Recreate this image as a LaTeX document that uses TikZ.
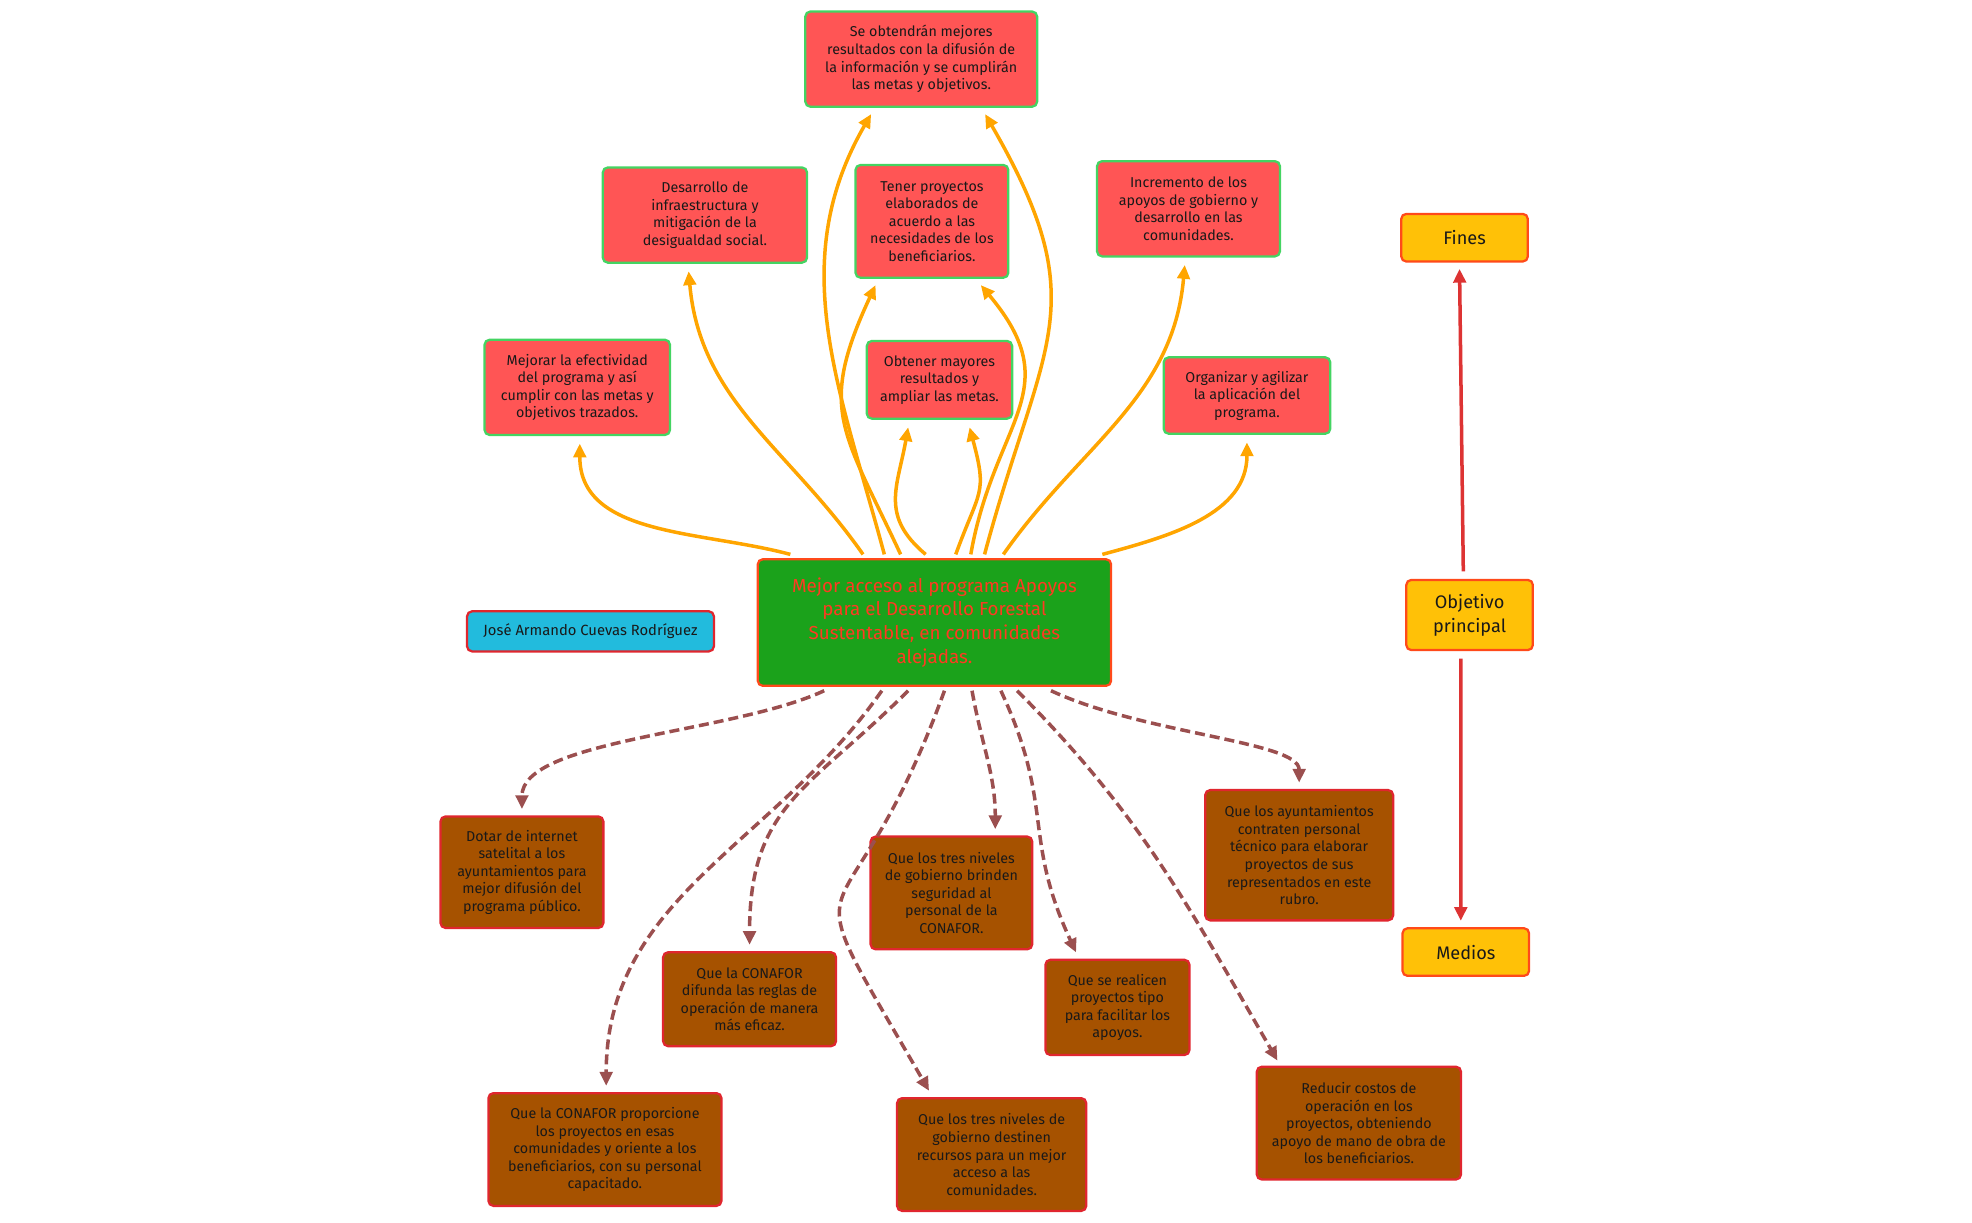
\documentclass[tikz,border=0pt]{standalone}
\usepackage{fontspec}
\setmainfont{Fira Sans}
\usepackage{tikz}
\usetikzlibrary{positioning, shapes, arrows.meta}

\definecolor{rojofin}{HTML}{FF5555}
\definecolor{verdeborde}{HTML}{44D462}
\definecolor{cafe}{HTML}{A65200}
\definecolor{rojoborde}{HTML}{E0262E}
\definecolor{verdecentral}{HTML}{1BA21B}
\definecolor{naranjaborde}{HTML}{FF4A1A}
\definecolor{rojotexto}{HTML}{FF3A22}
\definecolor{azul}{HTML}{22BBDD}
\definecolor{amarillo}{HTML}{FFC107}
\definecolor{naranja}{HTML}{FFA500}
\definecolor{cafelinea}{HTML}{9B4F4F}
\definecolor{rojoflecha}{HTML}{DD3333}

\begin{document}
\begin{tikzpicture}[
    x=1bp, y=1bp,
    % box styles
    caja/.style={
        rectangle,
        rounded corners=4pt,
        line width=1.8pt,
        align=center,
        inner sep=2pt,
        text=black!90,
        font=\fontsize{11.4}{14}\selectfont
    },
    fin/.style={caja, fill=rojofin, draw=verdeborde},
    medio/.style={caja, fill=cafe, draw=rojoborde},
    central/.style={caja, fill=verdecentral, draw=naranjaborde, text=rojotexto, font=\fontsize{15}{19}\selectfont},
    autor/.style={caja, fill=azul, draw=rojoborde, font=\fontsize{11.8}{13}\selectfont},
    leyenda/.style={caja, fill=amarillo, draw=naranjaborde, font=\fontsize{14.5}{19}\selectfont},
    % connector styles
    haciafin/.style={draw=naranja, line width=2.8pt, -{Triangle[length=11pt,width=10pt]}},
    haciamedio/.style={draw=cafelinea, line width=2.8pt, dash pattern=on 8pt off 4pt, -{Triangle[length=11pt,width=10pt]}},
    leyendaflecha/.style={draw=rojoflecha, line width=2.8pt, -{Triangle[length=11pt,width=10pt]}}
]
\useasboundingbox (0,0) rectangle (1568,-972);

% Objetivo central
\node (goal) at (743,-495) [central, minimum width=282, minimum height=101] {Mejor acceso al programa Apoyos\\para el Desarrollo Forestal\\Sustentable, en comunidades\\alejadas.};
\node (autor) at (469.5,-502) [autor, minimum width=197, minimum height=32] {José Armando Cuevas Rodríguez};

% Fines
\node (t1) at (732.5,-47) [fin, minimum width=185, minimum height=76] {Se obtendrán mejores\\resultados con la difusión de\\la información y se cumplirán\\las metas y objetivos.};
\node (t2) at (560.5,-171) [fin, minimum width=163, minimum height=76] {Desarrollo de\\infraestructura y\\mitigación de la\\desigualdad social.};
\node (t3) at (741,-176) [fin, minimum width=122, minimum height=90] {Tener proyectos\\elaborados de\\acuerdo a las\\necesidades de los\\beneficiarios.};
\node (t4) at (945,-166) [fin, minimum width=146, minimum height=76] {Incremento de los\\apoyos de gobierno y\\desarrollo en las\\comunidades.};
\node (t5) at (459,-308) [fin, minimum width=148, minimum height=76] {Mejorar la efectividad\\del programa y así\\cumplir con las metas y\\objetivos trazados.};
\node (t6) at (747,-302) [fin, minimum width=116, minimum height=62] {Obtener mayores\\resultados y\\ampliar las metas.};
\node (t7) at (991.5,-314.5) [fin, minimum width=133, minimum height=61] {Organizar y agilizar\\la aplicación del\\programa.};

% Medios
\node (b1) at (415,-693.5) [medio, minimum width=130, minimum height=89] {Dotar de internet\\satelital a los\\ayuntamientos para\\mejor difusión del\\programa público.};
\node (b2) at (596,-794.5) [medio, minimum width=138, minimum height=75] {Que la CONAFOR\\difunda las reglas de\\operación de manera\\más eficaz.};
\node (b3) at (756.5,-710) [medio, minimum width=129, minimum height=90] {Que los tres niveles\\de gobierno brinden\\seguridad al\\personal de la\\CONAFOR.};
\node (b4) at (888.5,-801) [medio, minimum width=115, minimum height=76] {Que se realicen\\proyectos tipo\\para facilitar los\\apoyos.};
\node (b5) at (1033,-680) [medio, minimum width=150, minimum height=104] {Que los ayuntamientos\\contraten personal\\técnico para elaborar\\proyectos de sus\\representados en este\\rubro.};
\node (b6) at (481,-914) [medio, minimum width=186, minimum height=90] {Que la CONAFOR proporcione\\los proyectos en esas\\comunidades y oriente a los\\beneficiarios, con su personal\\capacitado.};
\node (b7) at (788.5,-918) [medio, minimum width=151, minimum height=90] {Que los tres niveles de\\gobierno destinen\\recursos para un mejor\\acceso a las\\comunidades.};
\node (b8) at (1080.5,-893) [medio, minimum width=163, minimum height=90] {Reducir costos de\\operación en los\\proyectos, obteniendo\\apoyo de mano de obra de\\los beneficiarios.};

% Leyenda
\node (fines) at (1164.5,-189) [leyenda, minimum width=101, minimum height=38] {Fines};
\node (obj) at (1168.5,-489) [leyenda, minimum width=101, minimum height=56] {Objetivo\\principal};
\node (medios) at (1165.5,-757) [leyenda, minimum width=101, minimum height=38] {Medios};

% Hacia los fines
\draw[haciafin] ([xshift=-115pt,yshift=3pt]goal.north) to[out=165, in=-90] ([xshift=2pt,yshift=-6pt]t5.south);
\draw[haciafin] ([xshift=-57pt,yshift=3pt]goal.north) to[out=125, in=-85] ([xshift=-13pt,yshift=-6pt]t2.south);
\draw[haciafin] ([xshift=-40pt,yshift=3pt]goal.north) to[out=105, in=240] ([xshift=-40pt,yshift=-5pt]t1.south);
\draw[haciafin] ([xshift=-27pt,yshift=3pt]goal.north) to[out=115, in=245, looseness=1.3] ([xshift=-45pt,yshift=-5pt]t3.south);
\draw[haciafin] ([xshift=-7pt,yshift=3pt]goal.north) to[out=140, in=260, looseness=1.2] ([xshift=-25pt,yshift=-6pt]t6.south);
\draw[haciafin] ([xshift=17pt,yshift=3pt]goal.north) to[out=70, in=-75, looseness=1.4] ([xshift=24pt,yshift=-6pt]t6.south);
\draw[haciafin] ([xshift=29pt,yshift=3pt]goal.north) to[out=80, in=-50, looseness=1.3] ([xshift=39pt,yshift=-5pt]t3.south);
\draw[haciafin] ([xshift=40pt,yshift=3pt]goal.north) to[out=75, in=-60, looseness=1.3] ([xshift=51pt,yshift=-5pt]t1.south);
\draw[haciafin] ([xshift=55pt,yshift=3pt]goal.north) to[out=55, in=-95] ([xshift=-3pt,yshift=-6pt]t4.south);
\draw[haciafin] ([xshift=134pt,yshift=3pt]goal.north) to[out=15, in=-90] ([yshift=-6pt]t7.south);

% Hacia los medios
\draw[haciamedio] ([xshift=-88pt,yshift=-3pt]goal.south) to[out=205, in=90, out looseness=0.8, in looseness=0.55] ([yshift=5pt]b1.north);
\draw[haciamedio] ([xshift=-42pt,yshift=-3pt]goal.south) to[out=235, in=90] ([xshift=1pt,yshift=5pt]b6.north);
\draw[haciamedio] ([xshift=-21pt,yshift=-3pt]goal.south) to[out=225, in=90, looseness=1.2] ([yshift=5pt]b2.north);
\draw[haciamedio] ([xshift=8pt,yshift=-3pt]goal.south) to[out=250, in=120, looseness=1.9] ([xshift=-50pt,yshift=5pt]b7.north);
\draw[haciamedio] ([xshift=30pt,yshift=-3pt]goal.south) to[out=-80, in=90] ([xshift=35pt,yshift=5pt]b3.north);
\draw[haciamedio] ([xshift=53pt,yshift=-3pt]goal.south) to[out=-65, in=115, looseness=1.2] ([xshift=-33pt,yshift=5pt]b4.north);
\draw[haciamedio] ([xshift=66pt,yshift=-3pt]goal.south) to[out=-45, in=120] ([xshift=-65pt,yshift=4pt]b8.north);
\draw[haciamedio] ([xshift=93pt,yshift=-3pt]goal.south) to[out=-25, in=90, in looseness=0.4] ([yshift=5pt]b5.north);

% Fines y medios
\draw[leyendaflecha] ([xshift=-5pt,yshift=6pt]obj.north) -- ([xshift=-4pt,yshift=-5pt]fines.south);
\draw[leyendaflecha] ([xshift=-7pt,yshift=-6pt]obj.south) -- ([xshift=-4pt,yshift=5pt]medios.north);
\end{tikzpicture}
\end{document}
